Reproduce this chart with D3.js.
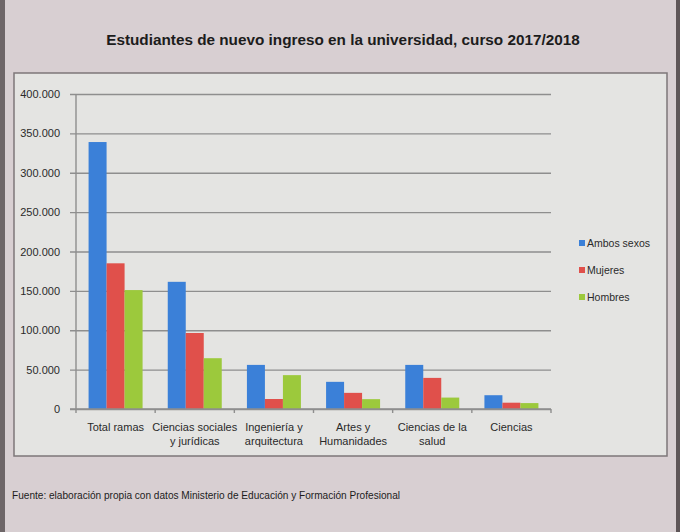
<!DOCTYPE html>
<html><head><meta charset="utf-8">
<script src="https://cdn.jsdelivr.net/npm/d3@7/dist/d3.min.js"></script>
<style>body{margin:0;background:#d6cdd0}svg{display:block}</style>
</head><body>
<svg id="c" width="680" height="532"></svg>
<script>
const categories = [["Total ramas"],["Ciencias sociales","y jurídicas"],["Ingeniería y","arquitectura"],["Artes y","Humanidades"],["Ciencias de la","salud"],["Ciencias"]];
const seriesNames = ["Ambos sexos","Mujeres","Hombres"];
const ambos = [339000,161500,56000,34500,56000,17500];
const mujeres = [185000,96500,12700,20500,39500,8000];
const hombres = [151000,64500,43000,12500,14500,7500];
const yTicks = [0,50000,100000,150000,200000,250000,300000,350000,400000];
const colors = ["#3b80d8","#e0504b","#9cc93c"];
const values = [ambos, mujeres, hombres];

(function(){
const svg = d3.select("#c");
const font = "'Liberation Sans', Arial, sans-serif";

svg.append("rect").attr("x",0).attr("y",0).attr("width",680).attr("height",532).attr("fill","#d8cfd2");
svg.append("rect").attr("x",0).attr("y",0).attr("width",5).attr("height",532).attr("fill","#6e6668");
svg.append("rect").attr("x",676).attr("y",0).attr("width",4).attr("height",532).attr("fill","#5e5658");

svg.append("text").attr("x",343).attr("y",45).attr("text-anchor","middle")
  .attr("font-family",font).attr("font-weight","bold").attr("font-size",15.3).attr("fill","#1c1c1c")
  .text("Estudiantes de nuevo ingreso en la universidad, curso 2017/2018");

svg.append("rect").attr("x",14).attr("y",73).attr("width",653).attr("height",383)
  .attr("fill","#e4e4e2").attr("stroke","#7d7779").attr("stroke-width",1.5);

const pl = 76, pr = 551, pt = 94, pb = 409;
const y = d3.scaleLinear().domain([0,400000]).range([pb, pt]);
const x0 = d3.scaleBand().domain(d3.range(categories.length)).range([pl,pr]).padding(0);
const groupW = 54;
const x1 = d3.scaleBand().domain(d3.range(seriesNames.length)).range([0,groupW]);

const fmt = d => d3.format(",")(d).replace(/,/g,".");
const yAxis = d3.axisLeft(y).tickValues(yTicks).tickSize(-(pr-pl)).tickFormat(fmt).tickPadding(10);
const ga = svg.append("g").attr("transform",`translate(${pl},0)`).call(yAxis);
ga.select(".domain").remove();
ga.selectAll(".tick line").attr("stroke","#8e8e8e").attr("stroke-width",1.4).attr("x1",-6);
ga.selectAll(".tick text").attr("font-family",font).attr("font-size",11).attr("fill","#2a2a2a").attr("x",-16);

svg.append("line").attr("x1",pl).attr("x2",pl).attr("y1",pt).attr("y2",pb).attr("stroke","#8e8e8e").attr("stroke-width",1.4);

const g = svg.append("g");
categories.forEach((c,i)=>{
  const off = x0(i) + (x0.bandwidth()-groupW)/2;
  values.forEach((vals,s)=>{
    g.append("rect").attr("x",off + x1(s)).attr("width",x1.bandwidth())
      .attr("y",y(vals[i])).attr("height",y(0)-y(vals[i])).attr("fill",colors[s]);
  });
});

const xb = svg.append("g");
xb.append("line").attr("x1",pl-6).attr("x2",pr).attr("y1",pb).attr("y2",pb).attr("stroke","#8e8e8e").attr("stroke-width",1.4);
d3.range(categories.length+1).forEach(i=>{
  const xx = i<categories.length ? x0(i) : pr;
  xb.append("line").attr("x1",xx).attr("x2",xx).attr("y1",pb).attr("y2",pb+4).attr("stroke","#8e8e8e").attr("stroke-width",1.4);
});
categories.forEach((c,i)=>{
  const t = xb.append("text").attr("text-anchor","middle").attr("font-family",font).attr("font-size",11).attr("fill","#2a2a2a");
  c.forEach((line,k)=>{
    t.append("tspan").attr("x",x0(i)+x0.bandwidth()/2).attr("y",431+k*14).text(line);
  });
});

seriesNames.forEach((n,s)=>{
  const yy = 247 + s*27;
  svg.append("rect").attr("x",579).attr("y",yy-7).attr("width",6).attr("height",6).attr("fill",colors[s]);
  svg.append("text").attr("x",587).attr("y",yy).attr("font-family",font).attr("font-size",10.5).attr("fill","#2a2a2a").text(n);
});

svg.append("text").attr("x",12).attr("y",499).attr("font-family",font).attr("font-size",10.5).attr("fill","#1c1c1c")
  .attr("textLength",388).attr("lengthAdjust","spacingAndGlyphs")
  .text("Fuente: elaboración propia con datos Ministerio de Educación y Formación Profesional");
})();
</script>
</body></html>
